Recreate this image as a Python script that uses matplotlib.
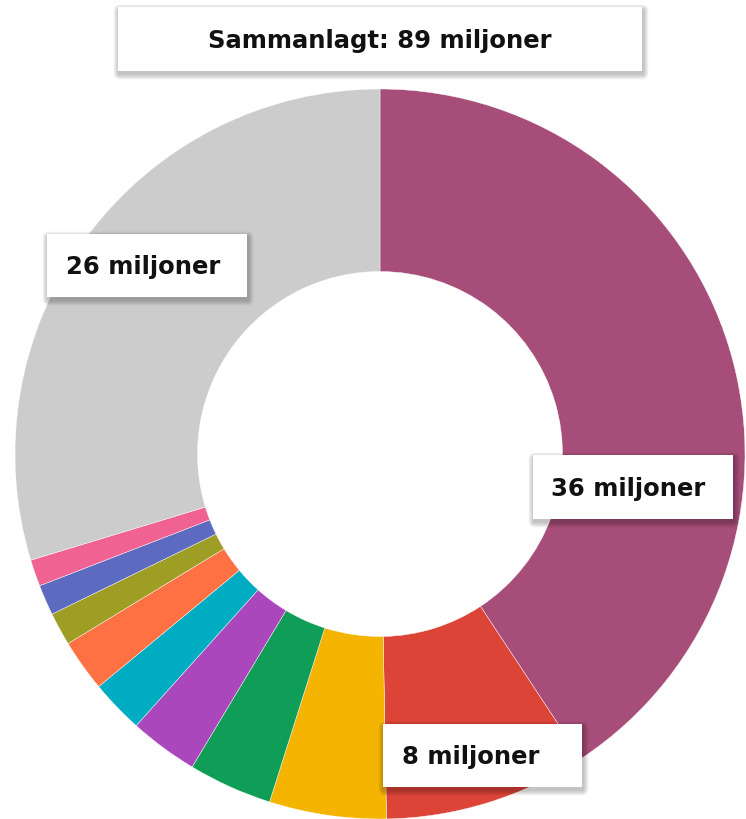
import matplotlib.pyplot as plt
from matplotlib.patches import FancyBboxPatch, Rectangle

# slice values (miljoner), clockwise from the top
values = [36.2, 8.0, 4.6, 3.3, 2.7, 2.1, 2.05, 1.3, 1.2, 1.05, 26.4]
colors = ["#A64D79", "#DB4437", "#F4B400", "#0F9D58", "#AB47BC", "#00ACC1",
          "#FF7043", "#9E9D24", "#5C6BC0", "#F06292", "#CCCCCC"]

title_text = "Sammanlagt: 89 miljoner"
labels = ["36 miljoner", "8 miljoner", "26 miljoner"]

W, H = 746, 820
fig = plt.figure(figsize=(W / 100, H / 100), dpi=100)
ax = fig.add_axes([0, 0, 1, 1])

cx, cy, R = 380, 455, 365
# y axis is inverted, so counterclock=True draws clockwise on screen
ax.pie(values, colors=colors, startangle=-90, counterclock=True,
       center=(cx, cy), radius=R, frame=True,
       wedgeprops=dict(width=R * 0.5, edgecolor="white", linewidth=0.3))
ax.set_xlim(0, W)
ax.set_ylim(H, 0)
ax.set_aspect("equal")
ax.axis("off")


def box(x0, y0, w, h, text, tx, ha="left"):
    # soft blurred drop shadow, mostly below the box
    for g in range(7, 0, -1):
        ax.add_patch(FancyBboxPatch((x0 + 1, y0 + 3), w, h,
                                    boxstyle=f"round,pad={g * 0.8},rounding_size={g}",
                                    facecolor="black", alpha=0.035, edgecolor="none", zorder=5))
    ax.add_patch(Rectangle((x0, y0), w, h, facecolor="white", edgecolor="none", zorder=6))
    ax.text(tx, y0 + h / 2 + 1, text, ha=ha, va="center", fontsize=17.5,
            fontweight="bold", family=["DejaVu Sans"], color="#111111", zorder=7)


box(118, 8, 524, 64, title_text, 380, ha="center")
box(533, 456, 200, 64, labels[0], 551)
box(383, 725, 199, 63, labels[1], 402)
box(47, 235, 200, 63, labels[2], 66)

fig.savefig("out.png", dpi=100)
